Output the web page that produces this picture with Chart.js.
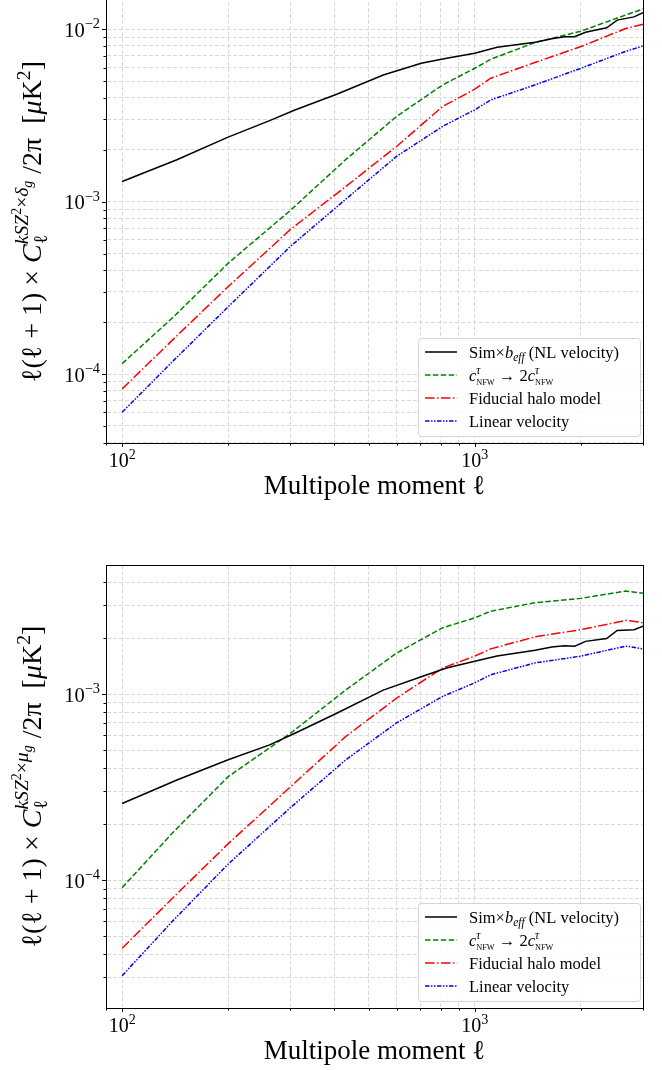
<!DOCTYPE html>
<html>
<head>
<meta charset="utf-8">
<script src="https://cdn.jsdelivr.net/npm/chart.js@4.4.1/dist/chart.umd.min.js"></script>
<style>
  html, body { margin: 0; padding: 0; background: #fff; overflow: hidden; }
  body { width: 662px; height: 1070px; position: relative; }
  canvas { position: absolute; left: 0; }
  #topChart { top: -10px; }
  #bottomChart { top: 530px; }
</style>
</head>
<body>
<canvas id="topChart" width="662" height="545"></canvas>
<canvas id="bottomChart" width="662" height="540"></canvas>
<script>
// multipoles
const ellModel = [100, 140, 200, 300, 430, 600, 810, 1000, 1110, 1480, 2000, 2680, 3000];
const ellSim = [100, 143, 199, 262, 309, 406, 550, 705, 832, 1000, 1157, 1483, 1654, 1796, 1920, 2061, 2366, 2534, 2830, 3000];

// kSZ^2 x delta_g (top panel)
const simDelta = [1.31e-3, 1.75e-3, 2.36e-3, 2.95e-3, 3.40e-3, 4.20e-3, 5.43e-3, 6.35e-3, 6.80e-3, 7.26e-3, 7.87e-3, 8.41e-3, 8.80e-3, 9.06e-3, 9.06e-3, 9.60e-3, 1.02e-2, 1.13e-2, 1.18e-2, 1.25e-2];
const nfwDelta = [1.15e-4, 2.15e-4, 4.40e-4, 8.90e-4, 1.75e-3, 3.12e-3, 4.75e-3, 5.94e-3, 6.70e-3, 8.37e-3, 9.75e-3, 1.21e-2, 1.31e-2];
const fidDelta = [8.2e-5, 1.60e-4, 3.22e-4, 6.90e-4, 1.22e-3, 2.09e-3, 3.56e-3, 4.49e-3, 5.20e-3, 6.41e-3, 7.94e-3, 1.01e-2, 1.07e-2];
const linDelta = [6.0e-5, 1.20e-4, 2.46e-4, 5.50e-4, 1.03e-3, 1.83e-3, 2.73e-3, 3.41e-3, 3.89e-3, 4.75e-3, 5.94e-3, 7.45e-3, 8.00e-3];

// kSZ^2 x mu_g (bottom panel)
const simMu = [2.58e-4, 3.45e-4, 4.42e-4, 5.33e-4, 6.16e-4, 7.89e-4, 1.05e-3, 1.24e-3, 1.38e-3, 1.50e-3, 1.60e-3, 1.72e-3, 1.79e-3, 1.82e-3, 1.81e-3, 1.92e-3, 1.99e-3, 2.20e-3, 2.22e-3, 2.32e-3];
const nfwMu = [9.1e-5, 1.82e-4, 3.60e-4, 6.15e-4, 1.05e-3, 1.66e-3, 2.27e-3, 2.57e-3, 2.79e-3, 3.10e-3, 3.27e-3, 3.58e-3, 3.48e-3];
const fidMu = [4.3e-5, 8.1e-5, 1.57e-4, 3.17e-4, 5.90e-4, 9.50e-4, 1.38e-3, 1.60e-3, 1.75e-3, 2.03e-3, 2.22e-3, 2.49e-3, 2.42e-3];
const linMu = [3.06e-5, 6.1e-5, 1.22e-4, 2.45e-4, 4.42e-4, 7.00e-4, 9.70e-4, 1.15e-3, 1.27e-3, 1.47e-3, 1.60e-3, 1.81e-3, 1.75e-3];

const seriesNames = ["Sim×b_eff (NL velocity)", "c_NFW → 2c_NFW", "Fiducial halo model", "Linear velocity"];
const seriesColors = ["#000000", "#008000", "#ff0000", "#0000ff"];
const seriesDash = [[], [5.5, 2.4], [9.6, 2.4, 1.5, 2.4], [4.5, 1.5, 1.5, 1.5, 1.5, 1.5]];

// axis exponents that carry a 10^n label
const xTickExps = [2, 3];
const yTickExpsTop = [-4, -3, -2];
const yTickExpsBottom = [-4, -3];

const FONT = '"Liberation Serif", "DejaVu Serif", serif';

function logTicks(min, max) {
  const out = [];
  for (let e = Math.floor(Math.log10(min)); e <= Math.ceil(Math.log10(max)); e++) {
    for (let m = 1; m < 10; m++) {
      const v = m * Math.pow(10, e);
      if (v >= min * 0.999 && v <= max * 1.001) out.push(v);
    }
  }
  return out;
}
function isMajor(v) {
  const l = Math.log10(v);
  return Math.abs(l - Math.round(l)) < 1e-9;
}

// tiny rich-text helper for super/subscripts
function layoutRich(ctx, parts, base) {
  let x = 0, mark = 0, maxX = 0;
  const items = [];
  for (const p of parts) {
    if (p.mark) { mark = x; continue; }
    if (p.back) { x = mark; continue; }
    if (p.fwd) { x = maxX; continue; }
    const size = base * (p.s || 1);
    const font = (p.i ? "italic " : "") + size + "px " + FONT;
    ctx.font = font;
    const w = ctx.measureText(p.t).width;
    items.push({ t: p.t, font, x, dy: (p.dy || 0) * base });
    x += w;
    maxX = Math.max(maxX, x);
  }
  return { items, width: maxX };
}
function drawRich(ctx, parts, x, y, base, align) {
  const L = layoutRich(ctx, parts, base);
  const x0 = align === "center" ? x - L.width / 2 : align === "right" ? x - L.width : x;
  ctx.fillStyle = "#000";
  ctx.textAlign = "left";
  ctx.textBaseline = "alphabetic";
  for (const it of L.items) {
    ctx.font = it.font;
    ctx.fillText(it.t, x0 + it.x, y + it.dy);
  }
}
function pow10Parts(e) {
  return [{ t: "10" }, { t: e < 0 ? "\u2212" + (-e) : String(e), s: 0.7, dy: -0.42 }];
}
function yLabelParts(sym) {
  return [
    { t: "ℓ(ℓ + 1) × " }, { t: "C", i: 1 }, { mark: 1 },
    { t: "kSZ", i: 1, s: 0.7, dy: -0.45 }, { t: "2", s: 0.5, dy: -0.72 },
    { t: "×", s: 0.7, dy: -0.45 }, { t: sym, i: 1, s: 0.7, dy: -0.45 }, { t: "g", i: 1, s: 0.5, dy: -0.33 },
    { back: 1 }, { t: "ℓ", s: 0.7, dy: 0.22 }, { fwd: 1 },
    { t: " /2π  [" }, { t: "μ", i: 1 }, { t: "K" }, { t: "2", s: 0.7, dy: -0.4 }, { t: "]" }
  ];
}
const nfwParts = [{ mark: 1 }, { t: "τ", i: 1, s: 0.7, dy: -0.4 }, { back: 1 }, { t: "NFW", s: 0.5, dy: 0.3 }, { fwd: 1 }];
const legendParts = [
  [{ t: "Sim×" }, { t: "b", i: 1 }, { t: "eff", i: 1, s: 0.7, dy: 0.2 }, { t: " (NL velocity)" }],
  [{ t: "c", i: 1 }, ...nfwParts, { t: " → 2" }, { t: "c", i: 1 }, ...nfwParts],
  [{ t: "Fiducial halo model" }],
  [{ t: "Linear velocity" }]
];

const decorations = {
  id: "decorations",
  afterDraw(chart, args, opts) {
    const ctx = chart.ctx;
    const a = chart.chartArea;
    const xs = chart.scales.x, ys = chart.scales.y;
    ctx.save();
    ctx.strokeStyle = "#000";
    ctx.lineWidth = 1;
    ctx.setLineDash([]);
    // right and top spines
    ctx.beginPath();
    ctx.moveTo(Math.round(a.right) + 0.5, a.top);
    ctx.lineTo(Math.round(a.right) + 0.5, a.bottom);
    ctx.moveTo(a.left, Math.round(a.top) + 0.5);
    ctx.lineTo(a.right, Math.round(a.top) + 0.5);
    ctx.stroke();
    // tick marks
    ctx.beginPath();
    for (const t of xs.ticks) {
      const px = Math.round(xs.getPixelForValue(t.value)) + 0.5;
      ctx.moveTo(px, a.bottom);
      ctx.lineTo(px, a.bottom + (isMajor(t.value) ? 4 : 2.5));
    }
    for (const t of ys.ticks) {
      const py = Math.round(ys.getPixelForValue(t.value)) + 0.5;
      ctx.moveTo(a.left, py);
      ctx.lineTo(a.left - (isMajor(t.value) ? 4 : 2.5), py);
    }
    ctx.stroke();
    // tick labels
    for (const e of xTickExps) {
      drawRich(ctx, pow10Parts(e), xs.getPixelForValue(Math.pow(10, e)), a.bottom + 24, 20, "center");
    }
    for (const e of opts.yExps) {
      drawRich(ctx, pow10Parts(e), a.left - 6, ys.getPixelForValue(Math.pow(10, e)) + 7.5, 20.5, "right");
    }
    // axis titles
    drawRich(ctx, [{ t: "Multipole moment " }, { t: "ℓ" }], (a.left + a.right) / 2, a.bottom + 51, 27, "center");
    ctx.save();
    ctx.translate(a.left - 65, (a.top + a.bottom) / 2 + opts.yLabelShift);
    ctx.rotate(-Math.PI / 2);
    drawRich(ctx, yLabelParts(opts.sym), 0, 0, 28, "center");
    ctx.restore();
    // legend
    const bw = 222, bh = 98;
    const bx = a.right - 3 - bw, by = a.bottom - 7 - bh;
    ctx.beginPath();
    ctx.roundRect(bx + 0.5, by + 0.5, bw, bh, 3);
    ctx.fillStyle = "rgba(255,255,255,0.85)";
    ctx.fill();
    ctx.strokeStyle = "#d4d4d4";
    ctx.stroke();
    for (let i = 0; i < 4; i++) {
      const ry = by + 14 + i * 23;
      ctx.beginPath();
      ctx.setLineDash(seriesDash[i]);
      ctx.strokeStyle = seriesColors[i];
      ctx.lineWidth = 1.5;
      ctx.moveTo(bx + 7, ry);
      ctx.lineTo(bx + 39, ry);
      ctx.stroke();
      ctx.setLineDash([]);
      drawRich(ctx, legendParts[i], bx + 51, ry + 5.5, 16.5, "left");
    }
    ctx.restore();
  }
};

function makeChart(id, sets, yMin, yMax, padTop, xHeight, yExps, sym, shift) {
  const ellFor = [ellSim, ellModel, ellModel, ellModel];
  return new Chart(document.getElementById(id), {
    type: "line",
    data: {
      datasets: sets.map((vals, i) => ({
        label: seriesNames[i],
        data: ellFor[i].map((l, j) => ({ x: l, y: vals[j] })),
        borderColor: seriesColors[i],
        borderDash: seriesDash[i],
        borderWidth: 1.5,
        pointRadius: 0,
        tension: 0,
        fill: false
      }))
    },
    options: {
      responsive: false,
      animation: false,
      devicePixelRatio: 1,
      layout: { padding: { left: 0, right: 19, top: padTop, bottom: 0 } },
      plugins: {
        legend: { display: false },
        tooltip: { enabled: false },
        decorations: { yExps, sym, yLabelShift: shift }
      },
      scales: {
        x: {
          type: "logarithmic", min: 90, max: 3000,
          afterBuildTicks: s => { s.ticks = logTicks(90, 3000).map(v => ({ value: v })); },
          afterFit: s => { s.height = xHeight; },
          ticks: { display: false },
          grid: { color: "#dadada", lineWidth: 1, drawTicks: false },
          border: { color: "#000", width: 1, dash: [4, 2] }
        },
        y: {
          type: "logarithmic", min: yMin, max: yMax,
          afterBuildTicks: s => { s.ticks = logTicks(yMin, yMax).map(v => ({ value: v })); },
          afterFit: s => { s.width = 106; },
          ticks: { display: false },
          grid: { color: "#dadada", lineWidth: 1, drawTicks: false },
          border: { color: "#000", width: 1, dash: [4, 2] }
        }
      }
    },
    plugins: [decorations]
  });
}

makeChart("topChart", [simDelta, nfwDelta, fidDelta, linDelta],
  Math.pow(10, -4.4), Math.pow(10, -1.807), 6, 92, yTickExpsTop, "δ", 2);
makeChart("bottomChart", [simMu, nfwMu, fidMu, linMu],
  Math.pow(10, -4.688), Math.pow(10, -2.306), 35, 62, yTickExpsBottom, "μ", 0);
</script>
</body>
</html>
